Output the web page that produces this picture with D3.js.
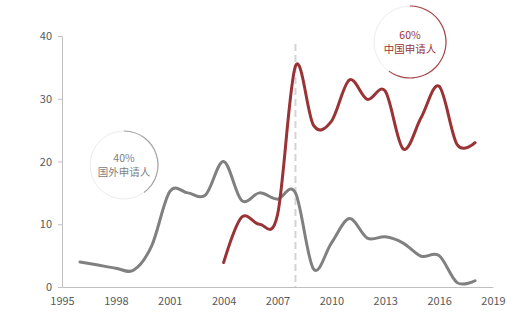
<!DOCTYPE html>
<html><head><meta charset="utf-8">
<script src="https://cdn.jsdelivr.net/npm/d3@7"></script>
<style>
body{margin:0;background:#fff;}
svg{display:block;font-family:"Noto Sans CJK SC","Noto Sans",sans-serif;}
</style></head><body>
<script>
const foreignYears = [1996,1997,1998,1999,2000,2001,2002,2003,2004,2005,2006,2007,2008,2009,2010,2011,2012,2013,2014,2015,2016,2017,2018];
const foreignValues = [4,3.5,3,2.7,6.6,15.2,15,14.7,20,13.8,15,14,15,2.9,7,10.9,7.8,8,7,4.9,5,0.7,1];
const chinaYears = [2004,2005,2006,2007,2008,2009,2010,2011,2012,2013,2014,2015,2016,2017,2018];
const chinaValues = [3.9,11.1,10,11.5,35.2,25.8,26.4,33,29.9,31.2,22,27,32,22.7,23];
const xTicks = [1995,1998,2001,2004,2007,2010,2013,2016,2019];
const yTicks = [0,10,20,30,40];
const markerYear = 2008;
const shares = [{label:"国外申请人", pct:40, color:"#808080", arcColor:"#a6a6a6", cx:124, cy:165, r:34},
                {label:"中国申请人", pct:60, color:"#9b3336", arcColor:"#a84446", cx:410, cy:42, r:36}];

const W=515,H=323;
const svg=d3.select("body").append("svg").attr("width",W).attr("height",H);
const x=d3.scaleLinear().domain([1995,2019]).range([62,493]);
const y=d3.scaleLinear().domain([0,40]).range([287,36]);

const gy=svg.append("g").attr("transform","translate(62,0)")
  .call(d3.axisLeft(y).tickValues(yTicks).tickSize(4).tickPadding(6));
const gx=svg.append("g").attr("transform","translate(0,287)")
  .call(d3.axisBottom(x).tickValues(xTicks).tickFormat(d3.format("d")).tickSize(0).tickPadding(10));
[gx,gy].forEach(g=>{
  g.select(".domain").attr("stroke","#bfbfbf");
  g.selectAll(".tick line").attr("stroke","#bfbfbf");
  g.selectAll("text").attr("fill","#595959").style("font-size","11px").style("font-family","'Noto Sans CJK SC','Noto Sans',sans-serif");
});

svg.append("line").attr("x1",x(markerYear)).attr("x2",x(markerYear))
  .attr("y1",44).attr("y2",287).attr("stroke","#d4d4d4").attr("stroke-width",2).attr("stroke-dasharray","7,4");

const line=d3.line().x(d=>x(d[0])).y(d=>y(d[1])).curve(d3.curveCardinal.tension(0));
svg.append("path").datum(foreignYears.map((yr,i)=>[yr,foreignValues[i]]))
  .attr("d",line).attr("fill","none").attr("stroke","#808080").attr("stroke-width",3).attr("stroke-linecap","round");
svg.append("path").datum(chinaYears.map((yr,i)=>[yr,chinaValues[i]]))
  .attr("d",line).attr("fill","none").attr("stroke","#993336").attr("stroke-width",3).attr("stroke-linecap","round");

shares.forEach(s=>{
  const g=svg.append("g").attr("transform",`translate(${s.cx},${s.cy})`);
  g.append("circle").attr("r",s.r).attr("fill","#fff").attr("stroke","#ececec").attr("stroke-width",1);
  const arc=d3.arc().innerRadius(s.r-0.6).outerRadius(s.r+0.6).startAngle(0).endAngle(2*Math.PI*s.pct/100);
  g.append("path").attr("d",arc()).attr("fill",s.arcColor);
  g.append("text").attr("text-anchor","middle").attr("y",-7).attr("dy","0.35em")
    .attr("fill",s.color).style("font-size","10.5px").text(s.pct+"%");
  g.append("text").attr("text-anchor","middle").attr("y",7).attr("dy","0.35em")
    .attr("fill",s.color).style("font-size","10.5px").text(s.label);
});
</script>
</body></html>
